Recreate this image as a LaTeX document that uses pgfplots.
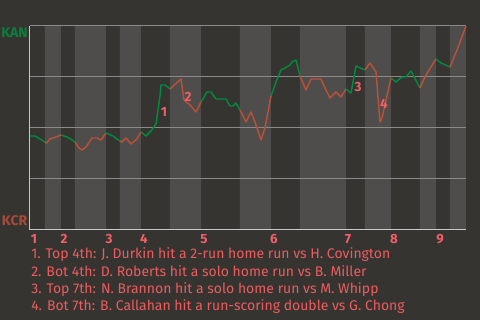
\documentclass[border=0pt]{standalone}
\usepackage{pgfplots}
\pgfplotsset{compat=1.18}
\usepackage{fontspec}
\setmainfont{Fira Sans}
\definecolor{bg}{HTML}{363431}
\definecolor{band}{HTML}{4F4D4B}
\definecolor{gridc}{HTML}{8C8A88}
\definecolor{axisc}{HTML}{C8C8C8}
\definecolor{kang}{HTML}{0A7F3C}
\definecolor{kanline}{HTML}{008A3E}
\definecolor{kcrline}{HTML}{B8503A}
\definecolor{kcrc}{HTML}{A84A3A}
\definecolor{annoc}{HTML}{F0606A}
\definecolor{footc}{HTML}{EC5C5E}
\pgfdeclarelayer{bglayer}
\pgfplotsset{layers/mylayers/.define layer set={bglayer,axis background,axis grid,axis ticks,axis lines,axis tick labels,pre main,main,axis descriptions,axis foreground}{}}
\tikzset{gl/.style={kanline, line width=1.1pt, line join=round},
  rl/.style={kcrline, line width=1.1pt, line join=round},
  anno/.style={text=annoc, font=\bfseries\fontsize{10}{12}\selectfont, inner sep=0pt},
  foot/.style={text=footc, font=\fontsize{10.5}{12}\selectfont, inner sep=0pt, anchor=base west}}
\begin{document}
\begin{tikzpicture}
\begin{axis}[
  set layers=mylayers,
  at={(22.5pt,67.5pt)}, anchor=south west,
  scale only axis, width=327pt, height=153pt,
  xmin=30, xmax=466, ymin=0, ymax=204,
  axis x line*=bottom, axis y line*=left,
  axis line style={draw=axisc, line width=0.75pt, -},
  ytick={51,102,153,204}, yticklabels={},
  ymajorgrids, grid style={draw=gridc, line width=0.75pt},
  xtick={34,64,109,144,204,274,348,394,440},
  xticklabels={1,2,3,4,5,6,7,8,9},
  major tick length=0pt,
  /pgf/number format/assume math mode=true,
  xticklabel style={font=\bfseries\fontsize{10}{12}\selectfont, text=annoc, inner sep=0pt, anchor=north, yshift=-3pt},
  no markers, clip=false,
]
\addplot[const plot mark left, fill=band, draw=none, on layer=axis background] coordinates {
(30,0)(45,204)(61,0)(75,204)(106,0)(120,204)(141,0)(170,204)(201,0)(240,204)(271,0)(300,204)(346,0)(365,204)(391,0)(420,204)(436,0)(450,204)(466,0)} \closedcycle;
% top 1
\addplot[gl] coordinates {(30,94)(35,94)(40,91)(45,88)};
\addplot[rl] coordinates {(45,88)(46.5,87)(50,91)(56,93)(61,95)};
% 2
\addplot[gl] coordinates {(61,95)(67,93)(72,90)(75,88)};
\addplot[rl] coordinates {(75,88)(79,82)(82,80)(86,83)(92,92)(97,92)(101,90)(106,97)};
% 3
\addplot[gl] coordinates {(106,97)(113,94)(117,91)(120,89)};
\addplot[rl] coordinates {(120,89)(122,88)(126,92)(131,86)(137,91)(141,98)};
% 4
\addplot[gl] coordinates {(141,98)(146,94)(151,99)(156,106)(158,120)(160,134)(161,145)(165,145)(170,141)};
\addplot[rl] coordinates {(170,141)(181,151)(184,130)(190,125)(196,118)(201,128)};
% 5
\addplot[gl] coordinates {(201,128)(207,138)(211,138)(216,131)(226,131)(230,124)(233,124)(236,127)(240,120)};
\addplot[rl] coordinates {(240,120)(246,108)(251,118)(255,108)(261,90)(265,102)(271,134)};
% 6
\addplot[gl] coordinates {(271,134)(276,148)(281,160)(285,162)(290,165)(292,168)(296,170)(300,154)};
\addplot[rl] coordinates {(300,154)(306,140)(311,151)(321,151)(324,144)(330,132)(336,138)(341,133)(346,141)};
% 7
\addplot[gl] coordinates {(346,141)(351,137)(356,164)(365,160)};
\addplot[rl] coordinates {(365,160)(370,167)(376,158)(379,120)(380,108)(382,112)(391,152)};
% 8
\addplot[gl] coordinates {(391,152)(396,148)(402,153)(406,153)(411,159)(420,142)};
\addplot[rl] coordinates {(420,142)(426,155)(436,171)};
% 9
\addplot[gl] coordinates {(436,171)(441,167)(450,163)};
\addplot[rl] coordinates {(450,163)(457,180)(466,204)};
\node[anno] at (axis cs:164,118) {1};
\node[anno] at (axis cs:188,133) {2};
\node[anno] at (axis cs:358,143) {3};
\node[anno] at (axis cs:384,126) {4};
\end{axis}
\begin{pgfonlayer}{bglayer}
\fill[bg] (0,0) rectangle (360pt,240pt);
\end{pgfonlayer}
\node[text=kang, font=\bfseries\fontsize{10.5}{12}\selectfont, inner sep=0pt] at (10.9pt,215.25pt) {KAN};
\node[text=kcrc, font=\bfseries\fontsize{10.5}{12}\selectfont, inner sep=0pt] at (10.9pt,74.25pt) {KCR};
\node[foot] at (23.25pt,45.75pt) {1. Top 4th: J. Durkin hit a 2-run home run vs H. Covington};
\node[foot] at (23.25pt,32.8pt) {2. Bot 4th: D. Roberts hit a solo home run vs B. Miller};
\node[foot] at (23.25pt,19.8pt) {3. Top 7th: N. Brannon hit a solo home run vs M. Whipp};
\node[foot] at (23.25pt,6.75pt) {4. Bot 7th: B. Callahan hit a run-scoring double vs G. Chong};
\pgfresetboundingbox
\useasboundingbox (0,0) rectangle (360pt,240pt);
\end{tikzpicture}
\end{document}
